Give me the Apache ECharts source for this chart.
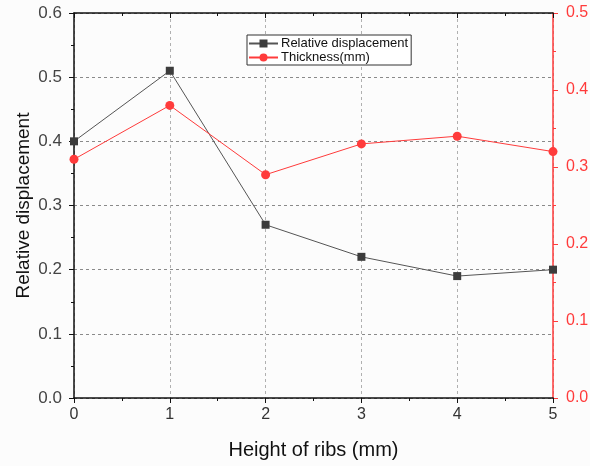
<!DOCTYPE html>
<html><head><meta charset="utf-8">
<script src="https://cdn.jsdelivr.net/npm/echarts@6/dist/echarts.min.js"></script>
<style>html,body{margin:0;padding:0;background:#fcfcfc}#c{width:590px;height:466px}</style>
</head><body><div id="c"></div>
<script>
const heights = [0, 1, 2, 3, 4, 5];
const relDisp = [0.40, 0.51, 0.27, 0.22, 0.19, 0.20];
const thickness = [0.31, 0.38, 0.29, 0.33, 0.34, 0.32];
const leftTicks = [0, 0.6, 0.1];
const rightTicks = [0, 0.5, 0.1];

const chart = echarts.init(document.getElementById('c'));
const red = '#ff3b3b';
const font = 'Arial, "Liberation Sans", sans-serif';
chart.setOption({
  backgroundColor: '#fcfcfc',
  animation: false,
  grid: {left: 74, right: 37, top: 13, bottom: 68, containLabel: false, outerBoundsMode: 'none'},
  legend: {
    left: 247, top: 35, orient: 'vertical', itemGap: 1, itemWidth: 29, itemHeight: 10,
    padding: [2, 3, 1, 1], borderColor: '#333', borderWidth: 1, borderRadius: 0,
    backgroundColor: '#fff',
    textStyle: {fontFamily: font, fontSize: 13, color: '#111', padding: [0, 0, 0, -2]},
    data: ['Relative displacement', 'Thickness(mm)']
  },
  xAxis: [{
    type: 'value', min: 0, max: 5, interval: 1,
    name: 'Height of ribs (mm)', nameLocation: 'middle', nameGap: 42,
    nameTextStyle: {fontFamily: font, fontSize: 20, color: '#111'},
    axisLine: {onZero: false, lineStyle: {color: '#111', width: 1.5}},
    axisTick: {show: true, length: 5, lineStyle: {color: '#111'}},
    minorTick: {show: true, splitNumber: 2, length: 3, lineStyle: {color: '#111'}},
    axisLabel: {fontFamily: font, fontSize: 16, color: '#333', margin: 9},
    splitLine: {show: true, lineStyle: {color: '#b0b0b0', type: [3, 3], width: 1}}
  }, {
    type: 'value', min: 0, max: 5, interval: 1, position: 'top',
    axisLine: {onZero: false, lineStyle: {color: '#111', width: 1.5}},
    axisTick: {show: true, inside: true, length: 5, lineStyle: {color: '#111'}},
    minorTick: {show: true, splitNumber: 2, length: 3, lineStyle: {color: '#111'}},
    axisLabel: {show: false}, splitLine: {show: false}
  }],
  yAxis: [{
    type: 'value', min: leftTicks[0], max: leftTicks[1], interval: leftTicks[2],
    name: 'Relative displacement', nameLocation: 'middle', nameGap: 41, nameMoveOverlap: false,
    nameTextStyle: {fontFamily: font, fontSize: 19, color: '#111'},
    axisLine: {show: true, onZero: false, lineStyle: {color: '#111', width: 1.5}},
    axisTick: {show: true, length: 5, lineStyle: {color: '#111'}},
    minorTick: {show: true, splitNumber: 2, length: 3, lineStyle: {color: '#111'}},
    axisLabel: {fontFamily: font, fontSize: 17, color: '#444', margin: 12, formatter: v => v.toFixed(1)},
    splitLine: {show: true, lineStyle: {color: '#8a8a8a', type: [3, 3], width: 1}}
  }, {
    type: 'value', min: rightTicks[0], max: rightTicks[1], interval: rightTicks[2],
    position: 'right',
    axisLine: {show: true, onZero: false, lineStyle: {color: red, width: 1.5}},
    axisTick: {show: true, length: 5, lineStyle: {color: red}},
    minorTick: {show: true, splitNumber: 2, length: 3, lineStyle: {color: red}},
    axisLabel: {fontFamily: font, fontSize: 16, color: red, margin: 13, formatter: v => v.toFixed(1)},
    splitLine: {show: false}
  }],
  series: [{
    name: 'Relative displacement', type: 'line', xAxisIndex: 0, yAxisIndex: 0,
    data: heights.map((h, i) => [h, relDisp[i]]),
    symbol: 'rect', symbolSize: 8, itemStyle: {color: '#3c3c3c'},
    lineStyle: {color: '#555', width: 1}, z: 3
  }, {
    name: 'Thickness(mm)', type: 'line', xAxisIndex: 0, yAxisIndex: 1,
    data: heights.map((h, i) => [h, thickness[i]]),
    symbol: 'circle', symbolSize: 9, itemStyle: {color: red},
    lineStyle: {color: red, width: 1}, z: 4
  }]
});
</script></body></html>
